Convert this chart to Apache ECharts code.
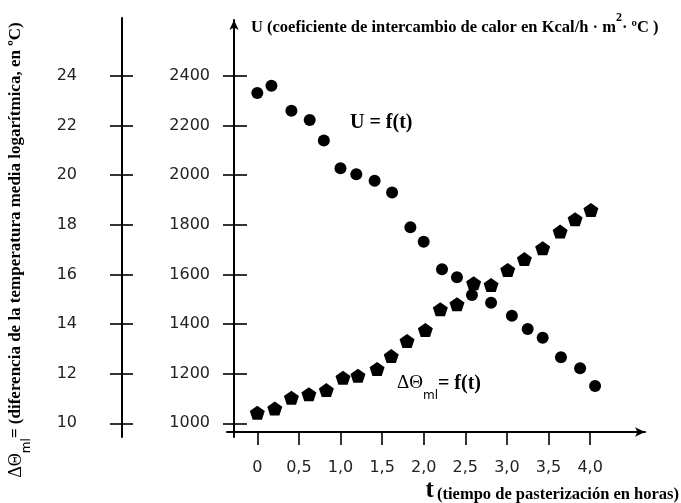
<!DOCTYPE html>
<html>
<head>
<meta charset="utf-8">
<script src="https://cdn.jsdelivr.net/npm/echarts@6/dist/echarts.min.js"></script>
<style>
  html, body { margin: 0; padding: 0; background: #fff; }
  #main { width: 681px; height: 503px; }
</style>
</head>
<body>
<div id="main"></div>
<script>
// U = f(t)
var tU = [0, 0.17, 0.41, 0.63, 0.80, 1.00, 1.19, 1.41, 1.62, 1.84, 2.00,
          2.22, 2.40, 2.58, 2.81, 3.06, 3.25, 3.43, 3.65, 3.88, 4.06];
var uVals = [2331, 2361, 2260, 2223, 2140, 2028, 2004, 1978, 1930, 1790, 1732,
             1621, 1589, 1517, 1486, 1434, 1380, 1345, 1266, 1222, 1150];
// dTheta_ml = f(t)
var tT = [0, 0.21, 0.41, 0.62, 0.83, 1.03, 1.21, 1.44, 1.61, 1.80, 2.02,
          2.20, 2.40, 2.60, 2.81, 3.01, 3.21, 3.43, 3.64, 3.82, 4.01];
var thetaVals = [10.43, 10.60, 11.03, 11.17, 11.34, 11.84, 11.92, 12.19, 12.71, 13.32, 13.76,
                 14.60, 14.80, 15.65, 15.58, 16.18, 16.62, 17.06, 17.73, 18.23, 18.60];
// ejes
var uTicks = [1000, 2400, 200];
var thetaTicks = [10, 24, 2];
var tTicks = [0, 4, 0.5];

var myChart = echarts.init(document.getElementById('main'));

function zip(a, b) {
    var out = [];
    for (var i = 0; i < a.length; i++) out.push([a[i], b[i]]);
    return out;
}

var pentagon = 'path://M50,0 L97.6,34.5 L79.4,90.5 L20.6,90.5 L2.4,34.5 Z';
var tickFont = { fontFamily: 'DejaVu Sans', fontSize: 16, color: '#222' };
var serif = 'Liberation Serif';
var black = { color: '#000', width: 2 };
var hidden = { type: 'value', show: false, min: 0, max: 1 };
var plain = function (v) { return String(v); };

// escala compartida: 1000 -> y 423.3, 2400 -> y 76, eje x en y 432, tope 20
var pxPerU = (423.3 - 76) / 1400;
var uMin = 1000 - (432 - 423.3) / pxPerU;
var uMax = 2400 + (76 - 20) / pxPerU;

var option = {
    animation: false,
    grid: [
        { left: 227, width: 418, top: 20, height: 412 },      // datos
        { left: 223, width: 24, top: 76, height: 347.3 },     // marcas U
        { left: 110, width: 23, top: 76, height: 347.3 },     // marcas dTheta
        { left: 122, width: 10, top: 18, height: 419 },       // linea dTheta
        { left: 234, width: 10, top: 20, height: 417 },       // linea U
        { left: 257.3, width: 332.8, top: 432, height: 13 }   // marcas t
    ],
    xAxis: [
        {
            type: 'value', gridIndex: 0, min: -0.3642, max: 4.66,
            axisLine: { show: true, onZero: false, symbol: ['none', 'arrow'], symbolSize: [7, 10], lineStyle: black },
            axisTick: { show: false }, axisLabel: { show: false }, splitLine: { show: false }
        },
        Object.assign({ gridIndex: 1 }, hidden),
        Object.assign({ gridIndex: 2 }, hidden),
        Object.assign({ gridIndex: 3 }, hidden),
        Object.assign({ gridIndex: 4 }, hidden),
        {
            type: 'value', gridIndex: 5, min: tTicks[0], max: tTicks[1], interval: tTicks[2],
            axisLine: { show: false }, axisTick: { show: false },
            splitLine: { show: true, lineStyle: { color: '#000', width: 1.6 } },
            axisLabel: Object.assign({
                margin: 15,
                formatter: function (v) { return v === 0 ? '0' : v.toFixed(1).replace('.', ','); }
            }, tickFont)
        }
    ],
    yAxis: [
        { type: 'value', gridIndex: 0, min: uMin, max: uMax, show: false },
        { type: 'value', gridIndex: 0, min: uMin / 100, max: uMax / 100, show: false },
        {
            type: 'value', gridIndex: 1, min: uTicks[0], max: uTicks[1], interval: uTicks[2],
            axisLine: { show: false }, axisTick: { show: false },
            splitLine: { show: true, lineStyle: { color: '#000', width: 1.6 } },
            axisLabel: Object.assign({ margin: 13, formatter: plain }, tickFont)
        },
        {
            type: 'value', gridIndex: 2, min: thetaTicks[0], max: thetaTicks[1], interval: thetaTicks[2],
            axisLine: { show: false }, axisTick: { show: false },
            splitLine: { show: true, lineStyle: { color: '#000', width: 1.6 } },
            axisLabel: Object.assign({ margin: 33, formatter: plain }, tickFont)
        },
        {
            type: 'value', gridIndex: 3, min: 0, max: 1,
            axisLine: { show: true, onZero: false, lineStyle: black },
            axisTick: { show: false }, axisLabel: { show: false }, splitLine: { show: false }
        },
        {
            type: 'value', gridIndex: 4, min: 0, max: 1,
            axisLine: { show: true, onZero: false, symbol: ['none', 'arrow'], symbolSize: [7, 10], lineStyle: black },
            axisTick: { show: false }, axisLabel: { show: false }, splitLine: { show: false }
        },
        Object.assign({ gridIndex: 5 }, hidden)
    ],
    series: [
        {
            name: 'U', type: 'scatter', xAxisIndex: 0, yAxisIndex: 0,
            symbol: 'circle', symbolSize: 12,
            itemStyle: { color: '#000', opacity: 1 },
            data: zip(tU, uVals)
        },
        {
            name: 'dTheta', type: 'scatter', xAxisIndex: 0, yAxisIndex: 1,
            symbol: pentagon, symbolSize: [15, 14],
            itemStyle: { color: '#000', opacity: 1 },
            data: zip(tT, thetaVals)
        }
    ],
    graphic: [
        {
            type: 'text', x: 251, y: 12,
            style: {
                text: '{a|U (coeficiente de intercambio de calor en Kcal/h · m}{s|2}{a|· ºC )}',
                rich: {
                    a: { fontFamily: serif, fontWeight: 'bold', fontSize: 16.5, fill: '#000', verticalAlign: 'bottom' },
                    s: { fontFamily: serif, fontWeight: 'bold', fontSize: 12, fill: '#000', verticalAlign: 'top' }
                },
                lineHeight: 24
            }
        },
        {
            type: 'text', x: 350, y: 113,
            style: {
                text: 'U = f(t)',
                fontFamily: serif, fontWeight: 'bold', fontSize: 20, fill: '#000'
            }
        },
        {
            type: 'text', x: 397, y: 374,
            style: {
                text: '{a|ΔΘ}{s|ml}{b|= f(t)}',
                rich: {
                    a: { fontFamily: serif, fontSize: 19, fill: '#000', verticalAlign: 'top' },
                    s: { fontFamily: 'DejaVu Sans', fontSize: 12, fill: '#000', verticalAlign: 'bottom' },
                    b: { fontFamily: serif, fontWeight: 'bold', fontSize: 20, fill: '#000', verticalAlign: 'top' }
                },
                lineHeight: 28
            }
        },
        {
            type: 'text', x: 679, y: 503,
            style: {
                text: '{t|t} {b|(tiempo de pasterización en horas)}',
                align: 'right', verticalAlign: 'bottom',
                rich: {
                    t: { fontFamily: serif, fontWeight: 'bold', fontSize: 25, fill: '#000', verticalAlign: 'bottom' },
                    b: { fontFamily: serif, fontWeight: 'bold', fontSize: 16.5, fill: '#000', verticalAlign: 'bottom' }
                }
            }
        },
        {
            type: 'text', x: 20, y: 250, rotation: Math.PI / 2,
            style: {
                text: '{a|ΔΘ}{s|ml}{b|= (diferencia de la temperatura media logarítmica, en ºC)}',
                align: 'center', verticalAlign: 'middle',
                rich: {
                    a: { fontFamily: serif, fontSize: 18, fill: '#000', verticalAlign: 'top' },
                    s: { fontFamily: 'DejaVu Sans', fontSize: 12, fill: '#000', verticalAlign: 'bottom' },
                    b: { fontFamily: serif, fontWeight: 'bold', fontSize: 17, fill: '#000', verticalAlign: 'top' }
                },
                lineHeight: 25
            }
        }
    ]
};

myChart.setOption(option);
</script>
</body>
</html>
